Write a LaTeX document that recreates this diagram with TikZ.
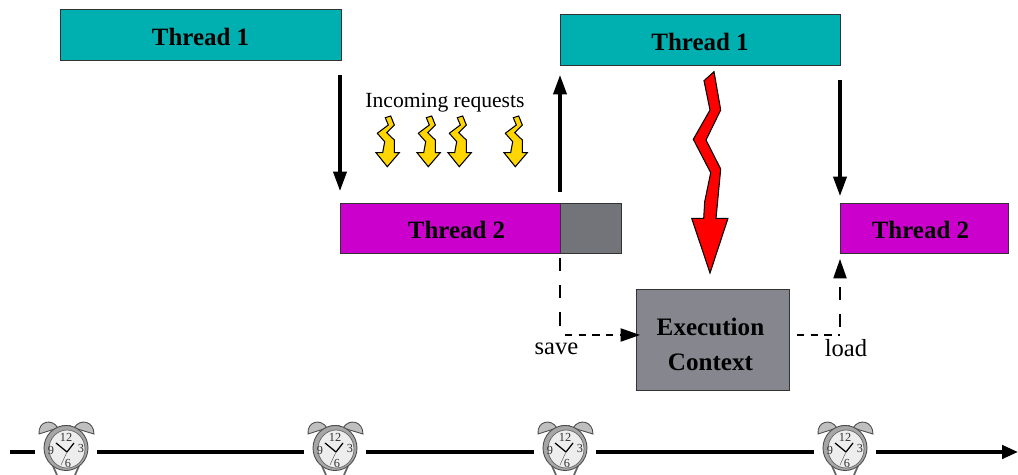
\documentclass[tikz,border=0pt]{standalone}
\usepackage{fontspec}
\setmainfont{Liberation Serif}
\usetikzlibrary{arrows.meta,positioning}
\definecolor{threadone}{RGB}{0,176,176}
\definecolor{threadtwo}{RGB}{204,0,204}
\definecolor{saved}{RGB}{115,115,122}
\definecolor{context}{RGB}{134,134,142}
\definecolor{bolt}{RGB}{255,214,0}
\tikzset{
  threadbox/.style={draw=black!80,inner sep=0pt,text height=12.5pt,text depth=0pt,font=\fontsize{14.2}{14.2}\selectfont\bfseries},
  flow/.style={line width=1.8pt,-{Triangle[length=11pt,width=7.5pt]}},
  hopdown/.style={line width=0.8pt,dash pattern=on 7.5pt off 8pt},
  hopside/.style={line width=0.8pt,dash pattern=on 4.2pt off 3.6pt},
  hoptip/.style={-{Triangle[length=11pt,width=7.5pt]}},
  tick/.style={circle,minimum size=35pt,inner sep=0pt},
  timeline/.style={line width=2pt},
  note/.style={font=\fontsize{14}{14}\selectfont,inner sep=0pt},
  clocknum/.style={font=\fontsize{7}{7}\selectfont,text=black!80,inner sep=0pt},
  pics/clock/.style={code={
    \filldraw[fill=black!25,draw=black!70,line width=0.5pt] (-27,-14) .. controls (-28,-27) and (-14,-30) .. (-8,-20) -- cycle;
    \filldraw[fill=black!25,draw=black!70,line width=0.5pt] (28,-14) .. controls (28,-27) and (14,-30) .. (8,-20) -- cycle;
    \fill[black!50] (-4,-23) rectangle (5,-17);
    \draw[black!60,line width=1pt] (-13,18) -- (-9,27) (13,18) -- (9,27);
    \filldraw[fill=black!35,draw=black!70,line width=0.5pt] (0,0) ellipse (22 and 22.5);
    \filldraw[fill=black!7,draw=black!60,line width=0.4pt] (1,1) ellipse (18 and 19);
    \draw[line width=0.7pt] (1,4) -- (-10,-5) (1,4) -- (8,-5);
    \draw[line width=0.3pt,black!60] (1,4) -- (-5,17);
    \node[clocknum] at (0,-11) {12};
    \node[clocknum] at (15,0) {3};
    \node[clocknum] at (2,15) {6};
    \node[clocknum] at (-15,2) {9};
  }},
  pics/spark/.style={code={
    \filldraw[fill=bolt,draw=black,line width=0.6pt]
      (-1.7,-24.3) -- (3.7,-26) -- (7.3,-17) -- (-0.3,-9.3) -- (7.3,-2) -- (7.3,10.7) -- (12.3,10.7)
      -- (0.3,24.7) -- (-11,10.7) -- (-4.3,10.7) -- (-2.3,-0.3) -- (-9.7,-8.7) -- (1.3,-17) -- cycle;
  }},
}
\begin{document}
\begin{tikzpicture}[x=0.02cm,y=-0.02cm]
  \useasboundingbox (0,0) rectangle (1018,475);
  \node [threadbox,fill=threadone,minimum width=5.62cm,minimum height=1.02cm] (one) at (200.5,34.5) {Thread 1};
  \node [threadbox,fill=threadone,minimum width=5.6cm,minimum height=1.02cm] (oneb) at (700,39.5) {Thread 1};
  \node [threadbox,fill=threadtwo,minimum width=4.4cm,minimum height=1cm] (two) at (450,228) {\hspace{7.4pt}Thread 2};
  \node [threadbox,fill=saved,minimum width=1.22cm,minimum height=1cm,right=0pt of two] (rest) {};
  \node [threadbox,fill=threadtwo,minimum width=3.36cm,minimum height=1cm] (twob) at (924,228) {Thread 2\hspace*{4pt}};
  \node [threadbox,fill=context,minimum width=3.06cm,minimum height=2.02cm,align=center,text height=35.8pt,
         font=\fontsize{14.3}{20}\selectfont\bfseries] (ctx) at (712.5,339.5) {Execution\hspace*{2.3pt}\\Context\hspace*{2.3pt}};

  \node [note,font=\fontsize{12.3}{12.3}\selectfont] (requests) at (445,102.5) {Incoming requests};
  \foreach \x in {387,428,459,515}
    \pic at (\x,142) {spark};

  % the big bolt
  \filldraw [fill=red,draw=black,line width=0.6pt] (704,80.7) -- (714,71.7) -- (720.7,110) -- (706,140)
    -- (720.7,169) -- (716,218.3) -- (728,218.3) -- (710,273) -- (691.7,218.3) -- (703.7,218.3)
    -- (704.7,201.7) -- (710.7,172.7) -- (693.3,139.3) -- (710,110) -- cycle;

  % switch arrows
  \coordinate (oneend) at (340,75);
  \coordinate (twotop) at (340,191);
  \coordinate (upstart) at (560,192);
  \coordinate (upend) at (560,75);
  \coordinate (downstart) at (840,80);
  \coordinate (downend) at (840,196);
  \draw [flow] (oneend) -- (twotop);
  \draw [flow] (upstart) -- (upend);
  \draw [flow] (downstart) -- (downend);

  % saving and loading
  \coordinate (savedown) at (560,258);
  \coordinate (savecorner) at (560,327);
  \coordinate (saveright) at (565,335);
  \coordinate (saveend) at (640,335);
  \coordinate (loadleft) at (797,335);
  \coordinate (loadcorner) at (840,335);
  \coordinate (loadup) at (840,327);
  \coordinate (loadend) at (840,259);
  \draw [hopdown] (savedown) -- (savecorner);
  \draw [hopside,hoptip] (saveright) -- (saveend);
  \draw [hopside] (loadleft) -- (loadcorner);
  \draw [hopdown,hoptip] (loadup) -- (loadend);
  \node [note,fill=white,inner sep=1pt] (save) at (556.5,349) {save};
  \node [note,fill=white,inner sep=1pt] (load) at (846,348) {load};

  % time line
  \coordinate (tstart) at (10,452);
  \coordinate (tend) at (1018,452);
  \foreach \x/\name in {66/a,335/b,565/c,845/d}{
    \node [tick] (tick\name) at (\x,452) {};
    \pic at (\x,448) {clock};
  }
  \draw [timeline] (tstart) -- (ticka);
  \draw [timeline] (ticka) -- (tickb);
  \draw [timeline] (tickb) -- (tickc);
  \draw [timeline] (tickc) -- (tickd);
  \draw [timeline,-{Triangle[length=9pt,width=7.5pt]}] (tickd) -- (tend);
\end{tikzpicture}
\end{document}
